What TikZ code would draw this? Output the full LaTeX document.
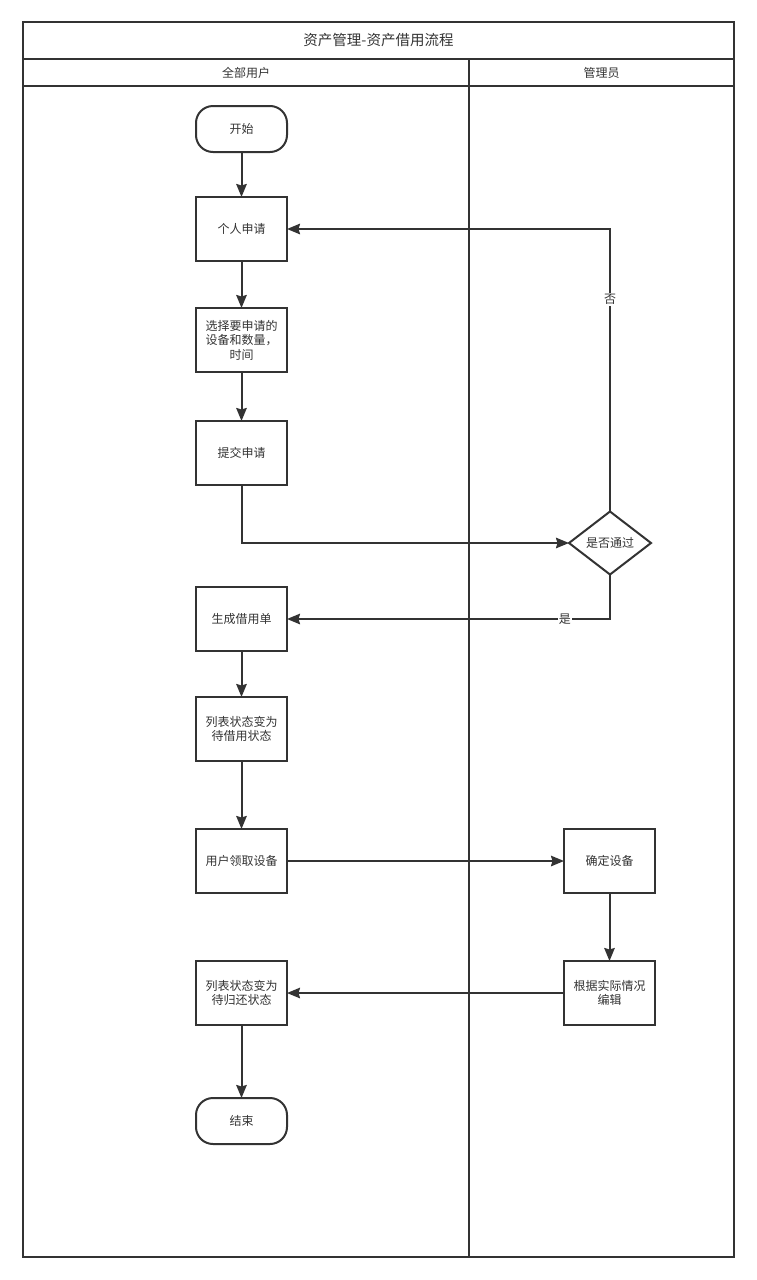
\documentclass[tikz,border=0pt]{standalone}
\usepackage{fontspec}
\setmainfont{Noto Sans CJK SC}
\usetikzlibrary{arrows.meta,positioning,shapes.geometric}
\definecolor{ink}{HTML}{333333}

\begin{document}
\begin{tikzpicture}[
            x = 1pt, y = -1pt, % pixel grid of the reference
            > = {Stealth[length=13pt,width=10.5pt,inset=1.5pt]}, % arrow head style
            line width = 2pt, % line style
            color = ink,
            font = \fontsize{12}{14.5}\selectfont,
            box/.style = {shape=rectangle,draw,outer sep=0pt,minimum width=91pt,minimum height=64pt,inner sep=2pt,align=center},
            term/.style = {shape=rectangle,rounded corners=17pt,draw,outer sep=0pt,minimum width=91pt,minimum height=46pt},
            decision/.style = {shape=diamond,draw,outer sep=0pt,minimum width=82pt,minimum height=63pt,inner sep=0pt},
            lbl/.style = {fill=white,inner sep=1pt}
        ]
        \useasboundingbox (0,0) rectangle (756,1280);

        % pool and lanes
        \draw (23,22) rectangle (734,1257);
        \draw (23,59) -- (734,59);
        \draw (23,86) -- (734,86);
        \draw (469,59) -- (469,1257);
        \node (title) at (378.5,40.5) {\fontsize{14.5}{17}\selectfont 资产管理-资产借用流程};
        \node (laneA) at (246,72.5)   {全部用户};
        \node (laneB) at (601.5,72.5) {管理员};

        \node[term]     (start)   at (241.5,129)              {开始};
        \node[box]      (apply)   [below=45pt of start]       {个人申请};
        \node[box]      (choose)  [below=47pt of apply]       {选择要申请的\\设备和数量，\\时间};
        \node[box]      (submit)  [below=49pt of choose]      {提交申请};
        \node[decision] (check)   at (610,543)                {是否通过};
        \node[box]      (order)   [below=102pt of submit]     {生成借用单};
        \node[box]      (wait)    [below=46pt of order]       {列表状态变为\\待借用状态};
        \node[box]      (take)    [below=68pt of wait]        {用户领取设备};
        \node[box]      (confirm) [right=277pt of take]       {确定设备};
        \node[box]      (edit)    [below=68pt of confirm]     {根据实际情况\\编辑};
        \node[box]      (back)    [below=68pt of take]        {列表状态变为\\待归还状态};
        \node[term]     (end)     [below=73pt of back]        {结束};

        \draw[->] (start)   -- (apply);
        \draw[->] (apply)   -- (choose);
        \draw[->] (choose)  -- (submit);
        \draw[->] (submit)  |- (check);
        \draw[->] (check)   |- node[lbl,pos=0.375] {否} (apply);
        \draw[->] (check)   |- node[lbl,pos=0.57]  {是} (order);
        \draw[->] (order)   -- (wait);
        \draw[->] (wait)    -- (take);
        \draw[->] (take)    -- (confirm);
        \draw[->] (confirm) -- (edit);
        \draw[->] (edit)    -- (back);
        \draw[->] (back)    -- (end);
    \end{tikzpicture}
\end{document}
